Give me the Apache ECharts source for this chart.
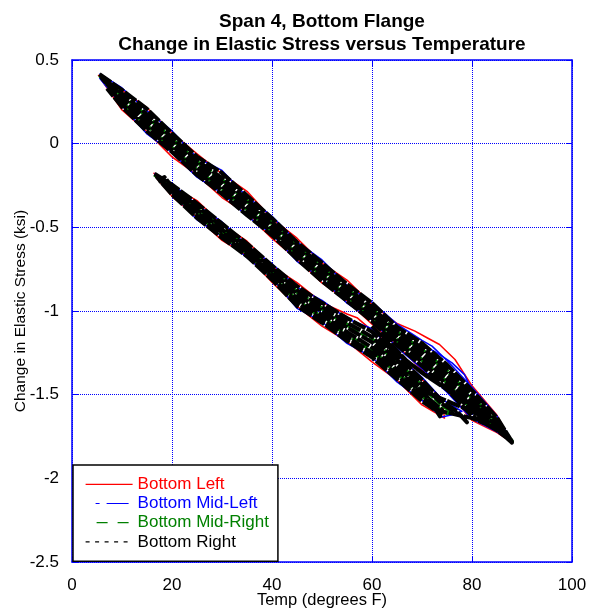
<!DOCTYPE html>
<html>
<head>
<meta charset="utf-8">
<script src="https://cdn.jsdelivr.net/npm/echarts@6/dist/echarts.min.js"></script>
<style>
  html, body { margin: 0; padding: 0; background: #fff; }
  #chart { width: 595px; height: 612px; }
</style>
</head>
<body>
<div id="chart"></div>
<script>
// Span 4 bottom flange gauges: [temperature (deg F), change in elastic stress (ksi)]
// Each gauge traces repeated daily cycles in two bands (upper and lower).
const xTicks = [0, 20, 40, 60, 80, 100];
const yTicks = [-2.5, -2, -1.5, -1, -0.5, 0, 0.5];

const seriesNames = ['Bottom Left', 'Bottom Mid-Left', 'Bottom Mid-Right', 'Bottom Right'];

// Bottom Left
const bottomLeftUpper = [
  [5.2,0.41],[10,0.319],[15,0.215],[20,0.063],[25,-0.06],[30,-0.181],[35,-0.285],[40,-0.448],[45,-0.565],[50,-0.714],[55,-0.815],[60,-0.961],[65,-1.075],[68.6,-1.12],[71,-1.16],[73.5,-1.20],[76.6,-1.29],[80,-1.447],[85,-1.623],[88,-1.785],
  [88,-1.79],[85,-1.727],[80,-1.654],[75,-1.474],[70,-1.352],[65,-1.205],[60,-1.079],[55,-0.939],[50,-0.832],[45,-0.69],[40,-0.566],[35,-0.42],[30,-0.322],[25,-0.187],[20,-0.079],[15,0.071],[10,0.201],[5.5,0.40]
];
const bottomLeftLower = [
  [16.3,-0.175],[20,-0.255],[25,-0.34],[30,-0.483],[35,-0.583],[40,-0.733],[45,-0.83],[50,-0.95],[55,-1.018],[57,-1.04],[60,-1.117],[65,-1.237],[70,-1.409],[74,-1.523],
  [74.5,-1.64],[70,-1.561],[65,-1.413],[60,-1.304],[55,-1.182],[50,-1.091],[45,-0.971],[40,-0.828],[35,-0.667],[30,-0.578],[25,-0.44],[20,-0.315],[16.5,-0.19]
];

// Bottom Mid-Left
const bottomMidLeftUpper = [
  [5.5,0.418],[10,0.333],[15,0.196],[20,0.076],[25,-0.084],[30,-0.16],[35,-0.317],[40,-0.434],[45,-0.587],[50,-0.695],[55,-0.847],[60,-0.947],[65,-1.078],[70,-1.176],[72,-1.21],[75,-1.296],[80,-1.456],[85,-1.628],[88,-1.78],
  [88,-1.79],[85,-1.722],[80,-1.645],[75,-1.485],[70,-1.344],[65,-1.218],[60,-1.053],[55,-0.953],[50,-0.806],[45,-0.703],[40,-0.54],[35,-0.433],[30,-0.295],[25,-0.20],[20,-0.052],[15,0.058],[10,0.227],[5.5,0.392]
];
const bottomMidLeftLoop = [[70.6,-1.21],[73,-1.25],[76,-1.31],[78.5,-1.38],[79.6,-1.45]];
const bottomMidLeftLower = [
  [16.5,-0.178],[20,-0.238],[25,-0.365],[30,-0.468],[35,-0.608],[40,-0.718],[45,-0.857],[50,-0.937],[55,-1.046],[60,-1.106],[65,-1.266],[70,-1.396],[74,-1.528],[78,-1.60],
  [76,-1.62],[74,-1.633],[70,-1.534],[65,-1.424],[60,-1.275],[55,-1.194],[50,-1.064],[45,-0.984],[40,-0.803],[35,-0.682],[30,-0.553],[25,-0.455],[20,-0.292],[16.8,-0.19]
];

// Bottom Mid-Right
const bottomMidRightUpper = [
  [5.5,0.409],[10,0.291],[15,0.163],[20,0.027],[25,-0.109],[30,-0.217],[35,-0.342],[40,-0.476],[45,-0.612],[50,-0.742],[55,-0.869],[60,-0.989],[65,-1.127],[70,-1.232],[75,-1.359],[80,-1.519],[85,-1.659],[88,-1.78],
  [88,-1.782],[85,-1.693],[80,-1.586],[75,-1.426],[70,-1.292],[65,-1.176],[60,-1.034],[55,-0.914],[50,-0.787],[45,-0.661],[40,-0.521],[35,-0.391],[30,-0.269],[25,-0.158],[20,-0.026],[15,0.107],[10,0.246],[6,0.395]
];
const bottomMidRightLower = [
  [16.5,-0.185],[20,-0.263],[25,-0.382],[30,-0.503],[35,-0.619],[40,-0.753],[45,-0.886],[50,-0.986],[55,-1.082],[60,-1.169],[65,-1.305],[70,-1.449],[74,-1.563],[76,-1.60],
  [75,-1.61],[74,-1.60],[70,-1.505],[65,-1.369],[60,-1.236],[55,-1.142],[50,-1.038],[45,-0.938],[40,-0.79],[35,-0.653],[30,-0.54],[25,-0.421],[20,-0.289],[17,-0.195]
];

// Bottom Right
const bottomRightUpper = [
  [5.5,0.415],[10,0.321],[15,0.208],[20,0.062],[25,-0.077],[30,-0.175],[35,-0.31],[40,-0.446],[45,-0.588],[50,-0.712],[55,-0.839],[60,-0.952],[65,-1.095],[70,-1.192],[75,-1.32],[80,-1.474],[85,-1.637],[88,-1.78],
  [88,-1.778],[85,-1.653],[80,-1.505],[75,-1.345],[70,-1.22],[65,-1.118],[60,-0.98],[55,-0.86],[50,-0.733],[45,-0.603],[40,-0.467],[35,-0.333],[30,-0.206],[25,-0.10],[20,0.037],[15,0.175],[10,0.30],[5.8,0.405],
  [6.5,0.39],[10,0.279],[15,0.148],[20,0.013],[25,-0.122],[30,-0.231],[35,-0.355],[40,-0.488],[45,-0.625],[50,-0.754],[55,-0.881],[60,-1.001],[65,-1.14],[70,-1.248],[75,-1.377],[80,-1.537],[85,-1.668],[88,-1.782],
  [88,-1.785],[85,-1.684],[80,-1.568],[75,-1.408],[70,-1.276],[65,-1.163],[60,-1.022],[55,-0.902],[50,-0.775],[45,-0.648],[40,-0.509],[35,-0.378],[30,-0.255],[25,-0.145],[20,-0.012],[15,0.122],[10,0.258],[6,0.39],
  [7,0.36],[10,0.237],[15,0.096],[20,-0.037],[25,-0.168],[30,-0.28],[35,-0.401],[40,-0.53],[45,-0.671],[50,-0.796],[55,-0.923],[60,-1.043],[65,-1.186],[70,-1.304],[75,-1.44],[80,-1.60],[85,-1.70],[88,-1.787],
  [87,-1.76],[85,-1.713],[80,-1.627],[75,-1.467],[70,-1.328],[65,-1.205],[60,-1.061],[55,-0.941],[50,-0.822],[45,-0.69],[40,-0.548],[35,-0.427],[30,-0.301],[25,-0.187],[20,-0.05],[15,0.073],[10,0.219],[7,0.33]
];
const bottomRightMerge = [
  [60,-1.09],[65,-1.25],[70,-1.37],[75,-1.47],[80,-1.58],[82,-1.63],
  [82,-1.60],[77,-1.50],[72,-1.41],[67,-1.30],[62,-1.14],
  [68,-1.44],[72,-1.50],[76,-1.55],[80,-1.60],[84,-1.66],
  [86,-1.73],[84,-1.69],[80,-1.64],[77,-1.62],[74,-1.60]
];
const bottomRightLower = [
  [16.5,-0.18],[20,-0.245],[25,-0.356],[30,-0.478],[35,-0.597],[40,-0.728],[45,-0.851],[50,-0.951],[55,-1.042],[60,-1.124],[65,-1.263],[70,-1.411],[74,-1.538],[77,-1.60],[79,-1.665],
  [78,-1.63],[74,-1.555],[70,-1.438],[65,-1.293],[60,-1.155],[55,-1.07],[50,-0.975],[45,-0.875],[40,-0.745],[35,-0.613],[30,-0.495],[25,-0.374],[20,-0.258],[18.5,-0.20],
  [17.5,-0.215],[20,-0.27],[25,-0.392],[30,-0.513],[35,-0.628],[40,-0.763],[45,-0.90],[50,-1.0],[55,-1.098],[60,-1.187],[65,-1.322],[70,-1.464],[73.6,-1.63],
  [74,-1.59],[70,-1.49],[65,-1.352],[60,-1.218],[55,-1.126],[50,-1.024],[45,-0.924],[40,-0.78],[35,-0.644],[30,-0.53],[25,-0.41],[20,-0.282],[17,-0.20],
  [18,-0.235],[20,-0.294],[25,-0.429],[30,-0.548],[35,-0.66],[40,-0.798],[45,-0.949],[50,-1.049],[55,-1.154],[60,-1.25],[65,-1.382],[70,-1.516],[74,-1.608],
  [73,-1.60],[70,-1.539],[65,-1.407],[60,-1.277],[55,-1.178],[50,-1.07],[45,-0.97],[40,-0.813],[35,-0.673],[30,-0.563],[25,-0.444],[20,-0.305],[17.5,-0.22]
];

const colors = ['#ff0000', '#0000ff', '#008000', '#000000'];
const plotWidths = [1.5, 1.5, 4, 4];
const plotTypes = ['solid', 'solid', [8, 2], [14, 1.5]];
// legend samples: solid, dash-dot, dashed, dotted
const legendTypes = ['solid', [4, 7, 22, 14], [11, 10, 11, 15], [4, 5.5]];
const legendOffsets = [0, 37, 36, 0];

function lineSeries(idx, data) {
  return {
    name: seriesNames[idx],
    type: 'line',
    data: data,
    symbol: 'none',
    showSymbol: false,
    silent: true,
    animation: false,
    lineStyle: { color: colors[idx], width: plotWidths[idx], type: plotTypes[idx], join: 'round' },
    itemStyle: { color: colors[idx] }
  };
}

const series = [
  lineSeries(0, bottomLeftUpper),
  lineSeries(0, bottomLeftLower),
  lineSeries(1, bottomMidLeftUpper),
  lineSeries(1, bottomMidLeftLower),
  lineSeries(1, bottomMidLeftLoop),
  lineSeries(2, bottomMidRightUpper),
  lineSeries(2, bottomMidRightLower),
  lineSeries(3, bottomRightUpper),
  lineSeries(3, bottomRightLower),
  lineSeries(3, bottomRightMerge)
];

const blue = '#0000ff';
const font = 'Liberation Sans, Arial, sans-serif';

const baseX = { type: 'value', min: xTicks[0], max: xTicks[xTicks.length - 1], interval: 20 };
const baseY = { type: 'value', min: yTicks[0], max: yTicks[yTicks.length - 1], interval: 0.5 };

const chart = echarts.init(document.getElementById('chart'), null, { renderer: 'canvas' });
chart.setOption({
  animation: false,
  backgroundColor: '#ffffff',
  title: {
    text: 'Span 4, Bottom Flange\nChange in Elastic Stress versus Temperature',
    left: 317,
    top: 5,
    textAlign: 'center',
    textStyle: { fontFamily: font, fontSize: 19, fontWeight: 'bold', color: '#000', lineHeight: 23 }
  },
  grid: { left: 72, right: 23, top: 60, bottom: 50, containLabel: false, outerBoundsMode: 'none' },
  legend: {
    orient: 'vertical',
    left: 73,
    top: 465,
    padding: [10.8, 9, 10.8, 12],
    itemWidth: 47,
    itemHeight: 14,
    itemGap: 2.2,
    backgroundColor: '#ffffff',
    borderColor: '#000000',
    borderWidth: 1.5,
    borderRadius: 0,
    selectedMode: false,
    textStyle: { fontFamily: font, fontSize: 17, lineHeight: 17 },
    data: seriesNames.map((n, i) => ({
      name: n,
      itemStyle: { opacity: 0 },
      lineStyle: { color: colors[i], width: 1.2, opacity: 1, type: legendTypes[i], dashOffset: legendOffsets[i] },
      textStyle: { color: colors[i] }
    }))
  },
  xAxis: [
    Object.assign({}, baseX, {
      position: 'bottom',
      name: 'Temp (degrees F)',
      nameLocation: 'middle',
      nameGap: 30,
      nameMoveOverlap: false,
      nameTextStyle: { fontFamily: font, fontSize: 16.5, color: '#000' },
      axisLine: { show: true, onZero: false, lineStyle: { color: blue, width: 1.5 } },
      axisTick: { show: true, inside: true, length: 6, lineStyle: { color: blue } },
      axisLabel: { fontFamily: font, fontSize: 17, color: '#000', margin: 15 },
      splitLine: { show: true, lineStyle: { color: blue, width: 1, type: [1, 1] } }
    }),
    Object.assign({}, baseX, {
      position: 'top',
      axisLine: { show: true, onZero: false, lineStyle: { color: blue, width: 1.5 } },
      axisTick: { show: true, inside: true, length: 6, lineStyle: { color: blue } },
      axisLabel: { show: false },
      splitLine: { show: false }
    })
  ],
  yAxis: [
    Object.assign({}, baseY, {
      position: 'left',
      name: 'Change in Elastic Stress (ksi)',
      nameLocation: 'middle',
      nameGap: 43,
      nameMoveOverlap: false,
      nameTextStyle: { fontFamily: font, fontSize: 15.5, color: '#000' },
      axisLine: { show: true, onZero: false, lineStyle: { color: blue, width: 1.5 } },
      axisTick: { show: true, inside: true, length: 6, lineStyle: { color: blue } },
      axisLabel: { fontFamily: font, fontSize: 17, color: '#000', margin: 13 },
      splitLine: { show: true, lineStyle: { color: blue, width: 1, type: [1, 1] } }
    }),
    Object.assign({}, baseY, {
      position: 'right',
      axisLine: { show: true, onZero: false, lineStyle: { color: blue, width: 1.5 } },
      axisTick: { show: true, inside: true, length: 6, lineStyle: { color: blue } },
      axisLabel: { show: false },
      splitLine: { show: false }
    })
  ],
  series: series
});
</script>
</body>
</html>
